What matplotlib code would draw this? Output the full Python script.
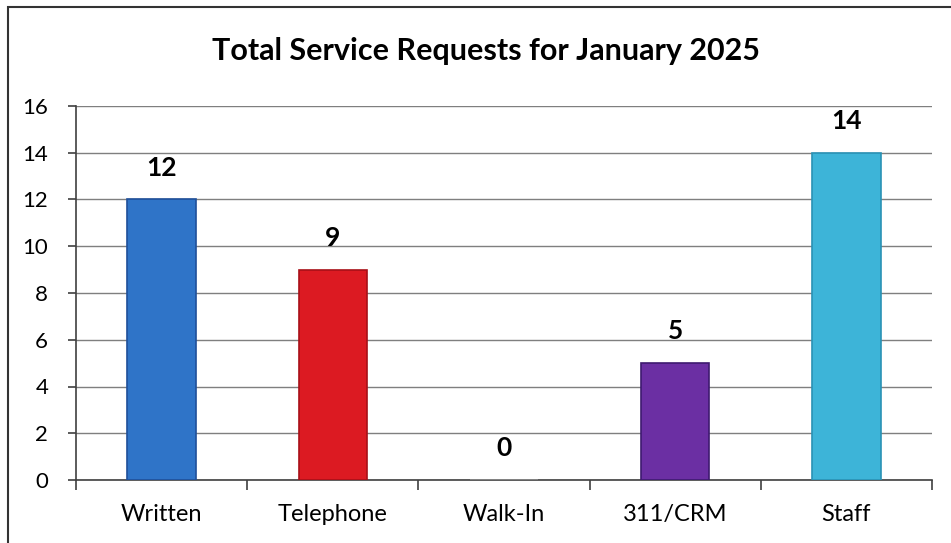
import numpy as np
import matplotlib.pyplot as plt
from matplotlib.patches import Rectangle

categories = ["Written", "Telephone", "Walk-In", "311/CRM", "Staff"]
values = [12, 9, 0, 5, 14]
colors = ["#2f74c8", "#dc1a22", "#8a8a8a", "#6b2fa3", "#3db4d8"]
edges = ["#1f4f9a", "#a81018", "#8a8a8a", "#3e1a70", "#2a92b5"]

plt.rcParams['font.family'] = ['Lato', 'DejaVu Sans']

fig = plt.figure(figsize=(9.51, 5.43), dpi=100)
ax = fig.add_axes([76/951, 1 - 480/543, (932 - 76)/951, (480 - 106)/543])

# outer border of the chart (runs off the right and bottom edges)
fig.patches.append(Rectangle((8/951, -0.05), 1.0, 1.05 - 7/543, transform=fig.transFigure,
                             fill=False, edgecolor="#333333", linewidth=1.5))

x = np.arange(len(categories))
ax.bar(x, values, width=0.4, color=colors, edgecolor=edges, linewidth=1.2, zorder=3)

for xi, v in zip(x, values):
    ax.text(xi, v + 0.85, str(v), ha="center", va="bottom", fontsize=19,
            fontweight="bold", color="black")

ax.set_xlim(-0.5, len(categories) - 0.5)
ax.set_ylim(0, 16)
ax.set_yticks(range(0, 17, 2))
ax.yaxis.grid(True, color="#7f7f7f", linewidth=1.0, zorder=0)
ax.set_axisbelow(True)

ax.set_xticks(x)
ax.set_xticklabels(categories, fontsize=17)
ax.tick_params(axis="x", length=0, pad=17)
ax.set_xticks(np.arange(-0.5, len(categories)), minor=True)
ax.tick_params(axis="x", which="minor", length=7, color="#404040", width=1.2)
ax.tick_params(axis="y", labelsize=16, length=6, color="#404040", width=1.2, pad=14)

for s in ["top", "right"]:
    ax.spines[s].set_visible(False)
ax.spines["left"].set_color("#404040")
ax.spines["left"].set_linewidth(1.2)
ax.spines["bottom"].set_color("#404040")
ax.spines["bottom"].set_linewidth(1.2)

fig.text(486/951, 1 - 51/543, "Total Service Requests for January 2025", ha="center",
         va="center", fontsize=22, fontweight="bold")

fig.savefig("out.png", dpi=100)
